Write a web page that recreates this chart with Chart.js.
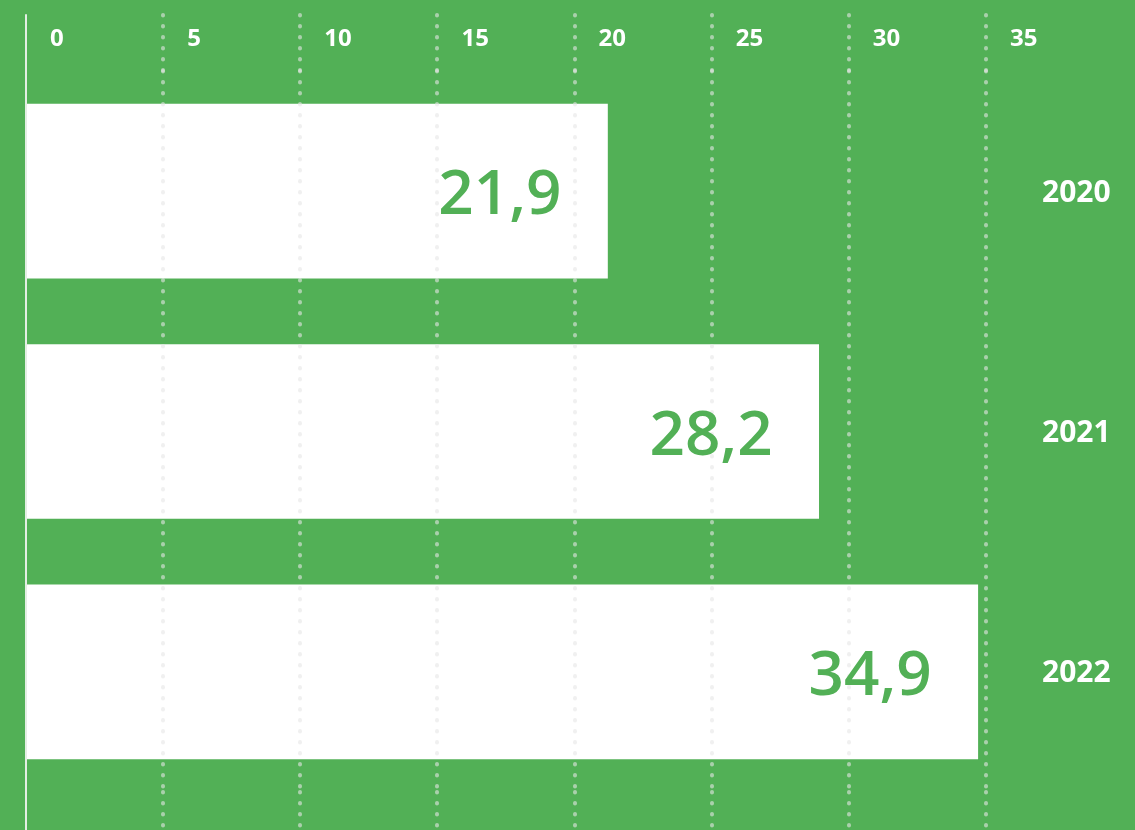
<!DOCTYPE html>
<html><head><meta charset="utf-8">
<script src="https://cdn.jsdelivr.net/npm/chart.js@4"></script>
<style>
html,body{margin:0;padding:0;background:#52b056;overflow:hidden;}
canvas{display:block;}
</style></head><body>
<canvas id="c" width="1135" height="830"></canvas>
<script>
// ---- data ----
const years = ['2020', '2021', '2022'];
const barLengths = [21.2, 28.9, 34.7];
const valueLabels = ['21,9', '28,2', '34,9'];
const tickValues = [0, 5, 10, 15, 20, 25, 30, 35];

const GREEN = '#52b056';
const FONT = '"Open Sans", "Noto Sans", sans-serif';
const DOT = 'rgba(230,230,230,0.6)';
const AXIS0 = '#e4eee4';

const gridColor = c => (c.index === 0 ? AXIS0 : DOT);
const axisOnlyColor = c => (c.index === 0 ? AXIS0 : 'rgba(0,0,0,0)');
const gridWidth = c => (c.index === 0 ? 2 : 4);
const gridDash = c => (c.index === 0 ? [] : [0.5, 10.5]);
const setTicks = s => { s.ticks = tickValues.map(v => ({ value: v })); };
const noPad = s => { s.paddingTop = 0; s.paddingBottom = 0; s.paddingLeft = 0; s.paddingRight = 0; };

const valueLabelPlugin = {
  id: 'valueLabels',
  beforeDraw(chart) { chart.ctx.lineCap = 'round'; },
  afterDraw(chart) {
    const ctx = chart.ctx;
    const meta = chart.getDatasetMeta(0);
    ctx.save();
    ctx.font = '600 62px ' + FONT;
    ctx.fillStyle = GREEN;
    ctx.textAlign = 'right';
    ctx.textBaseline = 'alphabetic';
    meta.data.forEach((bar, i) => {
      ctx.fillText(valueLabels[i], bar.x - 46, bar.y + 23);
    });
    ctx.restore();
  }
};

new Chart(document.getElementById('c'), {
  type: 'bar',
  data: {
    labels: years,
    datasets: [{
      data: barLengths,
      backgroundColor: '#ffffff',
      borderWidth: 0,
      barThickness: 174
    }]
  },
  options: {
    indexAxis: 'y',
    responsive: false,
    animation: false,
    layout: { padding: { left: 26, top: 0, right: 0, bottom: 0 } },
    plugins: { legend: { display: false }, tooltip: { enabled: false } },
    scales: {
      x: {
        type: 'linear', position: 'top', min: 0, max: 35,
        afterBuildTicks: setTicks,
        afterFit: s => { s.height = 71; noPad(s); },
        border: { display: false, dash: gridDash },
        grid: {
          z: 1, color: gridColor, lineWidth: gridWidth,
          drawTicks: true, tickLength: 56,
          tickColor: gridColor, tickWidth: gridWidth, tickBorderDash: gridDash
        },
        ticks: {
          color: '#ffffff', font: { family: FONT, size: 24, weight: 'bold' },
          align: 'start', labelOffset: 24, padding: -38.4, maxRotation: 0
        }
      },
      x2: {
        type: 'linear', position: 'bottom', min: 0, max: 35,
        afterBuildTicks: setTicks,
        afterFit: s => { s.height = 38; noPad(s); },
        border: { display: false },
        grid: {
          z: 1, drawOnChartArea: true, drawTicks: true, tickLength: 38,
          color: axisOnlyColor, lineWidth: gridWidth,
          tickColor: gridColor, tickWidth: gridWidth, tickBorderDash: gridDash
        },
        ticks: { display: false }
      },
      y: {
        position: 'right',
        afterFit: s => { s.width = 149; noPad(s); },
        border: { display: false },
        grid: { display: false, drawTicks: false },
        ticks: { color: '#ffffff', font: { family: FONT, size: 30, weight: 'bold' }, padding: 56, labelOffset: 2 }
      }
    }
  },
  plugins: [valueLabelPlugin]
});
</script>
</body></html>
